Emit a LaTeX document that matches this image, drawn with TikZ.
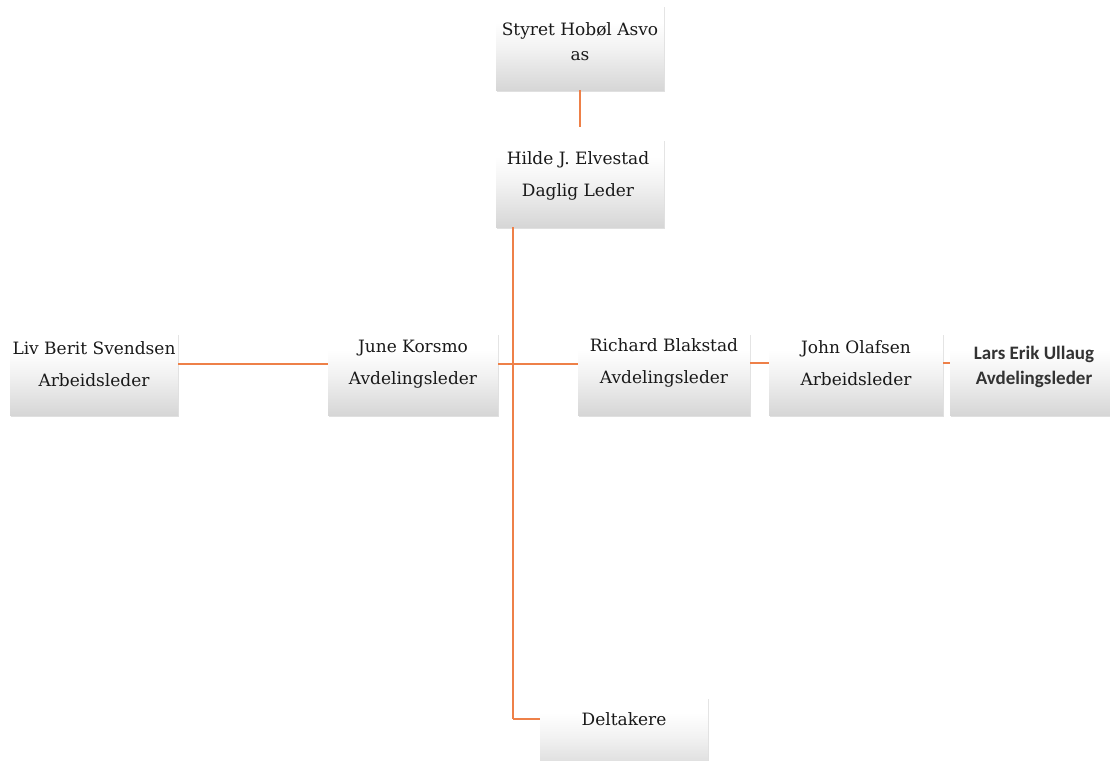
\documentclass[tikz,border=0pt]{standalone}
\usepackage{fontspec}
\setmainfont{DejaVu Serif}
\newfontfamily\larsfont{Carlito}
\usetikzlibrary{shadows}
\pgfdeclareverticalshading{boxshade}{100bp}{color(0bp)=(gray!50); color(25bp)=(gray!32); color(50bp)=(gray!10); color(65bp)=(white); color(100bp)=(white)}
\definecolor{conn}{RGB}{238,128,72}
\tikzset{
  box/.style={rectangle, draw=none, shading=boxshade, minimum width=168pt, minimum height=82pt, inner sep=0pt,
    drop shadow={shadow xshift=1pt, shadow yshift=-1.5pt, fill=gray!40, opacity=0.6}},
  txt/.style={align=center, font=\fontsize{17}{32}\selectfont, text=black!90, inner sep=1pt},
  larstxt/.style={align=center, font=\larsfont\bfseries\fontsize{19}{25}\selectfont, text=black!80, inner sep=1pt},
  link/.style={draw=conn, line width=1.4pt}
}
\begin{document}
\begin{tikzpicture}[x=1pt,y=-1pt]
\useasboundingbox (0,0) rectangle (1110,760);
% boxes
\node[box, minimum height=84pt] (styret) at (580,48) {};
\node[box, minimum height=88pt] (hilde) at (580,183) {};
\node[box] (liv) at (94,374) {};
\node[box, minimum width=170pt] (june) at (413,374) {};
\node[box, minimum width=172pt] (richard) at (664,374) {};
\node[box, minimum width=174pt] (john) at (856,374) {};
\node[box, minimum width=172pt] (lars) at (1036,374) {};
\node[box, minimum height=78pt] (deltakere) at (624,736) {};
% texts
\node[txt, font=\fontsize{17}{25}\selectfont] (styrettxt) at (580,42) {Styret Hobøl Asvo\\as};
\node[txt] (hildetxt) at (578,176) {Hilde J. Elvestad\\Daglig Leder};
\node[txt] (livtxt) at (94,364) {Liv Berit Svendsen\\Arbeidsleder};
\node[txt] (junetxt) at (413,364) {June Korsmo\\Avdelingsleder};
\node[txt] (richardtxt) at (664,363) {Richard Blakstad\\Avdelingsleder};
\node[txt] (johntxt) at (856,363) {John Olafsen\\Arbeidsleder};
\node[larstxt] (larstxt) at (1034,367) {Lars Erik Ullaug\\Avdelingsleder};
\node[txt] (deltxt) at (624,719) {Deltakere};
% connectors
\draw[link, shorten >=12pt] (styret.south) -- (styret.south |- hilde.north);
\coordinate (vtop) at ([xshift=17pt]hilde.south west);
\coordinate (vbot) at (vtop |- deltxt.west);
\draw[link] (vtop) -- (vbot);
\draw[link] (vbot) -- (vbot -| deltakere.west);
\draw[link] (livtxt.east -| liv.east) -- (junetxt.west -| june.west);
\draw[link] (junetxt.east -| june.east) -- (junetxt.east -| richard.west);
\draw[link] (johntxt.west -| richard.east) -- (johntxt.west -| john.west);
\draw[link] (johntxt.east -| john.east) -- (johntxt.east -| lars.west);
\end{tikzpicture}
\end{document}
